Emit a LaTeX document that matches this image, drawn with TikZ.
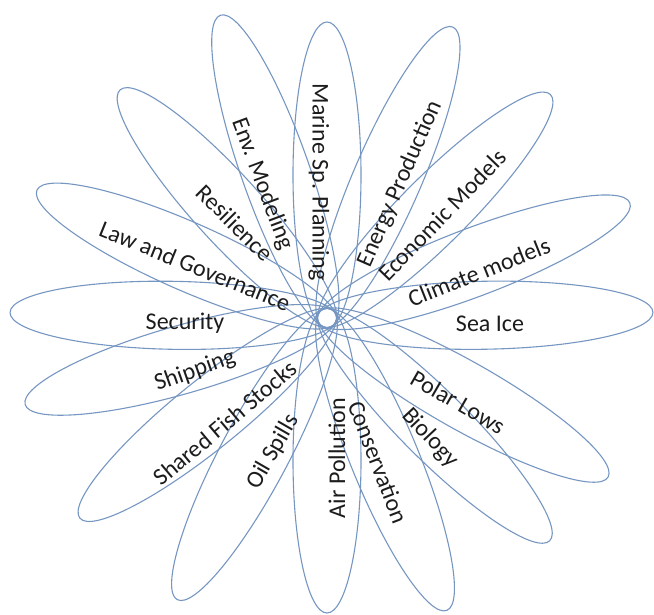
\documentclass[tikz,border=0pt]{standalone}
\usepackage{fontspec}
\setmainfont{Carlito}
\definecolor{petalblue}{RGB}{118,150,194}
\definecolor{labelgray}{RGB}{28,28,28}
\begin{document}
\begin{tikzpicture}[x=1pt,y=1pt,
  petal/.style={draw=petalblue, line width=1.1pt},
  lbl/.style={font=\fontsize{24}{26}\selectfont, text=labelgray, inner sep=0pt}]
\useasboundingbox (0,0) rectangle (654,614);
\coordinate (C) at (327,296);
\foreach \ang/\r in {1/326, 20.8/324, 45/316, 66.6/317, 90/296, 109.4/321, 132.2/308, 156.2/317, 179/317, 196/314, 219/318, 242/319, 270/295, 292.3/316, 315/315, 330.5/323} {
  \pgfmathsetmacro\ra{(\r+10)/2}
  \pgfmathsetmacro\rc{(\r-10)/2}
  \draw[petal, shift={(C)}, rotate=\ang] (\rc pt,0pt) ellipse [x radius=\ra pt, y radius=34pt];
}
\node[lbl, rotate=-90] (marine) at (319,432) {Marine Sp. Planning};
\node[lbl, rotate=-69.5] (env) at (262,430) {Env. Modeling};
\node[lbl, rotate=-45] (resil) at (235,391) {Resilience};
\node[lbl, rotate=-22] (law) at (195,348) {Law and Governance};
\node[lbl] (secur) at (185,291) {Security};
\node[lbl, rotate=19.5] (ship) at (195,243) {Shipping};
\node[lbl, rotate=40] (fish) at (225,191) {Shared Fish Stocks};
\node[lbl, rotate=60] (oil) at (273,162) {Oil Spills};
\node[lbl, rotate=90] (air) at (337,156) {Air Pollution};
\node[lbl, rotate=-69] (cons) at (378,152) {Conservation};
\node[lbl, rotate=-47] (bio) at (430,176) {Biology};
\node[lbl, rotate=-30] (polar) at (458,212) {Polar Lows};
\node[lbl] (seaice) at (490,290) {Sea Ice};
\node[lbl, rotate=21.7] (climate) at (479,342) {Climate models};
\node[lbl, rotate=46] (econ) at (442,399) {Economic Models};
\node[lbl, rotate=66.4] (energy) at (400,430) {Energy Production};
\end{tikzpicture}
\end{document}
